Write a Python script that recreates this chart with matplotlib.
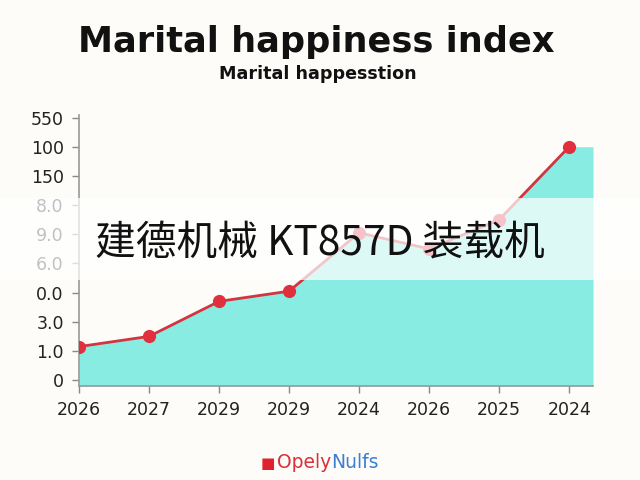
import matplotlib.pyplot as plt
import matplotlib.patches as mpatches
import numpy as np

years = ['2026', '2027', '2029', '2029', '2024', '2026', '2025', '2024']
y_tick_labels = ['0', '1.0', '3.0', '0.0', '6.0', '9.0', '8.0', '150', '100', '550']
values = [1.15, 1.5, 2.7, 3.05, 5.05, 4.5, 5.5, 8.0]

bg = '#fdfcf9'
fill_color = '#88ece2'
line_color = '#d23440'
marker_color = '#e0303e'

fig = plt.figure(figsize=(6.4, 4.8), dpi=100, facecolor=bg)
ax = fig.add_axes([0.1234, 0.1958, 0.8032, 0.5642])
ax.set_facecolor(bg)

x = np.arange(len(years))
x_right = 7.34
ax.fill_between(np.append(x, x_right), np.append(values, values[-1]), -0.2,
                color=fill_color, lw=0, zorder=1)
ax.plot(x, values, color=line_color, lw=2, zorder=3)
ax.scatter(x, values, s=90, color=marker_color, zorder=4, lw=0)

ax.set_xlim(0, x_right)
ax.set_ylim(-0.2, 9.08)
ax.set_xticks(x)
ax.set_xticklabels(years)
ax.set_yticks(np.arange(len(y_tick_labels)))
ax.set_yticklabels(y_tick_labels)
ax.tick_params(axis='both', labelsize=12.5, colors='#888888', labelcolor='#222222',
               length=5, width=1)
ax.tick_params(axis='x', pad=6)
ax.tick_params(axis='y', pad=6)
for s in ['top', 'right']:
    ax.spines[s].set_visible(False)
for s in ['left', 'bottom']:
    ax.spines[s].set_color('#999999')
    ax.spines[s].set_linewidth(1.2)

fig.text(0.494, 1 - 42 / 480, 'Marital happiness index', ha='center',
         va='center', fontsize=25.3, fontweight='bold', color='#111111',
         family='DejaVu Sans')
fig.text(0.497, 1 - 74 / 480, 'Marital happesstion', ha='center', va='center',
         fontsize=12.6, fontweight='bold', color='#111111', family='DejaVu Sans')

# overlay band with caption
band = mpatches.Rectangle((0, 1 - 280 / 480), 1, 82 / 480, transform=fig.transFigure,
                          facecolor='white', alpha=0.72, lw=0, zorder=10)
fig.patches.append(band)
fig.text(0.148, 1 - 243 / 480, '建德机械 KT857D 装载机', ha='left', va='center',
         fontsize=29.3, color='#111111', zorder=11,
         family=['Noto Sans CJK SC', 'DejaVu Sans'])

# legend
fig.text(0.407, 1 - 463 / 480, '■', ha='left', va='center', fontsize=11,
         color='#e02030', family='DejaVu Sans')
t1 = fig.text(0.433, 1 - 463 / 480, 'Opely', ha='left', va='center', fontsize=13.5,
              color='#d9303c', family='DejaVu Sans')
fig.canvas.draw()
bb = t1.get_window_extent()
fig.text(bb.x1 / fig.bbox.width, 1 - 463 / 480, 'Nulfs', ha='left', va='center',
         fontsize=13.5, color='#3a7fd0', family='DejaVu Sans')

fig.savefig('out.png', dpi=100, facecolor=bg)
